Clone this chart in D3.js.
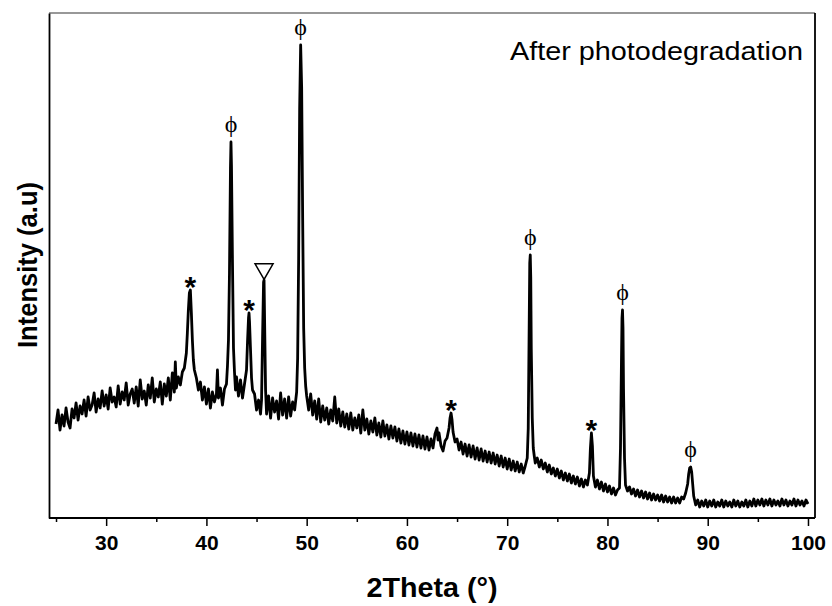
<!DOCTYPE html>
<html>
<head>
<meta charset="utf-8">
<script src="https://cdn.jsdelivr.net/npm/d3@7"></script>
<style>
  body { margin: 0; background: #fff; }
  .axis path, .axis line { stroke: #000; }
  .axis text { font-family: "Liberation Sans", Arial, sans-serif; font-weight: bold; font-size: 21px; fill: #000; }
</style>
</head>
<body>
<div id="chart-area"></div>
<script>
// XRD scan after photodegradation: [2theta, intensity (a.u.)]
const scanLow = [
  [25.0, 94], [25.2, 108], [25.4, 88], [25.6, 103], [25.8, 92], [26.0, 110], [26.2, 96], [26.4, 90],
  [26.6, 109], [26.8, 100], [27.0, 115], [27.2, 98], [27.4, 112], [27.6, 104], [27.8, 118], [28.0, 102],
  [28.2, 121], [28.4, 108], [28.6, 113], [28.8, 125], [29.0, 106], [29.2, 119], [29.4, 110], [29.6, 127],
  [29.8, 112], [30.0, 123], [30.2, 109], [30.4, 130], [30.6, 116], [30.8, 121], [31.0, 111], [31.2, 132],
  [31.4, 114], [31.6, 126], [31.8, 118], [32.0, 135], [32.2, 113], [32.4, 124], [32.6, 129], [32.8, 115],
  [33.0, 131], [33.2, 112], [33.4, 138], [33.6, 119], [33.8, 127], [34.0, 113], [34.2, 133], [34.4, 120],
  [34.6, 140], [34.8, 116], [35.0, 129], [35.2, 121], [35.4, 136], [35.6, 114], [35.8, 134], [36.0, 122],
  [36.2, 140], [36.4, 118], [36.6, 145], [36.8, 126], [36.9, 156], [37.0, 130], [37.2, 141], [37.4, 133],
  [37.6, 146], [37.8, 150], [38.0, 165], [38.1, 185], [38.2, 208], [38.3, 225], [38.4, 228], [38.5, 205],
  [38.6, 178], [38.7, 158], [38.8, 148], [39.0, 140], [39.2, 128], [39.4, 136], [39.6, 118], [39.8, 131],
  [40.0, 114], [40.2, 129], [40.4, 110], [40.6, 126], [40.8, 116], [41.0, 124], [41.1, 148], [41.2, 120],
  [41.4, 130], [41.6, 113], [41.8, 129], [42.0, 134], [42.1, 152], [42.2, 178], [42.3, 245], [42.4, 350],
  [42.45, 376], [42.5, 352], [42.6, 255], [42.7, 170], [42.8, 146], [42.9, 128], [43.0, 141], [43.2, 122],
  [43.4, 138], [43.6, 120], [43.8, 134], [44.0, 148], [44.1, 176], [44.2, 200], [44.25, 205], [44.3, 196],
  [44.4, 168], [44.5, 140], [44.6, 128], [44.8, 124], [45.0, 108], [45.2, 118], [45.4, 104], [45.5, 118],
  [45.6, 180], [45.7, 236], [45.75, 238], [45.8, 200], [45.9, 128], [46.0, 104], [46.2, 122], [46.4, 100],
  [46.6, 120], [46.8, 106], [47.0, 117], [47.2, 99], [47.4, 125], [47.6, 103], [47.8, 119], [48.0, 100],
  [48.2, 121], [48.4, 102], [48.6, 116], [48.8, 108], [49.0, 126], [49.1, 160], [49.2, 260], [49.3, 410],
  [49.4, 473], [49.5, 430], [49.6, 300], [49.7, 190], [49.8, 150], [49.9, 132]
];

const scanMid = [
  [50.0, 122], [50.2, 108], [50.4, 124], [50.6, 103], [50.8, 117], [51.0, 99], [51.2, 119], [51.4, 96],
  [51.6, 112], [51.8, 98], [52.0, 110], [52.2, 94], [52.4, 108], [52.6, 97], [52.8, 121], [53.0, 95],
  [53.2, 109], [53.4, 92], [53.6, 106], [53.8, 91], [54.0, 104], [54.2, 89], [54.4, 105], [54.6, 88],
  [54.8, 100], [55.0, 90], [55.2, 103], [55.4, 85], [55.6, 108], [55.8, 88], [56.0, 99], [56.2, 84],
  [56.4, 97], [56.6, 86], [56.8, 100], [57.0, 83], [57.2, 95], [57.4, 81], [57.6, 97], [57.8, 82],
  [58.0, 93], [58.2, 79], [58.4, 92], [58.6, 80], [58.8, 91], [59.0, 77], [59.2, 89], [59.4, 75],
  [59.6, 87], [59.8, 74], [60.0, 86], [60.2, 73], [60.4, 85], [60.6, 72], [60.8, 84], [61.0, 71],
  [61.2, 83], [61.4, 70], [61.6, 82], [61.8, 69], [62.0, 81], [62.2, 68], [62.4, 79], [62.6, 70],
  [62.8, 84], [63.0, 90], [63.1, 78], [63.2, 85], [63.4, 72], [63.6, 67], [63.8, 77], [64.0, 80],
  [64.2, 90], [64.3, 100], [64.4, 105], [64.5, 98], [64.6, 86], [64.8, 76], [65.0, 79], [65.2, 68],
  [65.4, 76], [65.6, 64], [65.8, 74], [66.0, 62], [66.2, 73], [66.4, 61], [66.6, 72], [66.8, 59],
  [67.0, 70], [67.2, 58], [67.4, 69], [67.6, 57], [67.8, 67], [68.0, 56], [68.2, 66], [68.4, 55],
  [68.6, 65], [68.8, 54], [69.0, 63], [69.2, 52], [69.4, 62], [69.6, 51], [69.8, 60], [70.0, 49],
  [70.2, 59], [70.4, 48], [70.6, 57], [70.8, 47], [71.0, 56], [71.2, 46], [71.4, 54], [71.6, 45],
  [71.8, 52], [72.0, 60], [72.1, 90], [72.2, 200], [72.25, 255], [72.3, 263], [72.35, 240], [72.4, 170],
  [72.5, 100], [72.6, 70], [72.7, 62], [72.8, 55], [73.0, 60], [73.2, 51], [73.4, 58], [73.6, 49],
  [73.8, 55], [74.0, 46], [74.2, 53], [74.4, 44], [74.6, 50], [74.8, 42]
];

const scanHigh = [
  [75.0, 49], [75.2, 40], [75.4, 47], [75.6, 38], [75.8, 45], [76.0, 37], [76.2, 44], [76.4, 35],
  [76.6, 42], [76.8, 34], [77.0, 41], [77.2, 32], [77.4, 39], [77.6, 31], [77.8, 38], [78.0, 33],
  [78.2, 45], [78.3, 70], [78.4, 85], [78.5, 72], [78.6, 42], [78.8, 31], [79.0, 38], [79.2, 29],
  [79.4, 36], [79.6, 27], [79.8, 34], [80.0, 26], [80.2, 32], [80.4, 24], [80.6, 30], [80.8, 23],
  [81.0, 28], [81.2, 30], [81.3, 70], [81.4, 160], [81.45, 200], [81.5, 208], [81.55, 190], [81.6, 130],
  [81.7, 60], [81.8, 33], [82.0, 27], [82.2, 31], [82.4, 24], [82.6, 29], [82.8, 22], [83.0, 28],
  [83.2, 21], [83.4, 27], [83.6, 20], [83.8, 26], [84.0, 19], [84.2, 25], [84.4, 18], [84.6, 24],
  [84.8, 18], [85.0, 23], [85.2, 17], [85.4, 23], [85.6, 16], [85.8, 22], [86.0, 16], [86.2, 21],
  [86.4, 15], [86.6, 21], [86.8, 15], [87.0, 20], [87.2, 15], [87.4, 21], [87.6, 19], [87.8, 25],
  [88.0, 34], [88.1, 44], [88.2, 50], [88.3, 51], [88.4, 46], [88.5, 34], [88.6, 22], [88.8, 13],
  [89.0, 18], [89.2, 11], [89.4, 17], [89.6, 12], [89.8, 18], [90.0, 11], [90.2, 17], [90.4, 12],
  [90.6, 18], [90.8, 11], [91.0, 16], [91.2, 12], [91.4, 18], [91.6, 11], [91.8, 17], [92.0, 12],
  [92.2, 16], [92.4, 11], [92.6, 18], [92.8, 12], [93.0, 17], [93.2, 11], [93.4, 16], [93.6, 12],
  [93.8, 18], [94.0, 11], [94.2, 17], [94.4, 12], [94.6, 19], [94.8, 12], [95.0, 18], [95.2, 13],
  [95.4, 19], [95.6, 12], [95.8, 18], [96.0, 13], [96.2, 19], [96.4, 12], [96.6, 18], [96.8, 13],
  [97.0, 17], [97.2, 12], [97.4, 19], [97.6, 13], [97.8, 18], [98.0, 12], [98.2, 17], [98.4, 13],
  [98.6, 19], [98.8, 12], [99.0, 18], [99.2, 13], [99.4, 17], [99.6, 12], [99.8, 18], [100.0, 14]
];

// phase marks above peaks
const peakLabels = [
  { theta: 38.4, mark: "*" },
  { theta: 42.45, mark: "ϕ" },
  { theta: 44.25, mark: "*" },
  { theta: 45.75, mark: "tri" },
  { theta: 49.4, mark: "ϕ" },
  { theta: 64.4, mark: "*" },
  { theta: 72.3, mark: "ϕ" },
  { theta: 78.4, mark: "*" },
  { theta: 81.5, mark: "ϕ" },
  { theta: 88.3, mark: "ϕ" }
];

const majorTicks = [30, 40, 50, 60, 70, 80, 90, 100];
const minorTicks = [25, 35, 45, 55, 65, 75, 85, 95];

const data = scanLow.concat(scanMid, scanHigh).map(d => ({ theta: d[0], value: d[1] }));

const margin = { top: 13, right: 17, bottom: 88, left: 49 };
const svgWidth = 832,
  svgHeight = 606;
const width = svgWidth - margin.left - margin.right,
  height = svgHeight - margin.top - margin.bottom;

const svg = d3
  .select("#chart-area")
  .append("svg")
  .attr("width", svgWidth)
  .attr("height", svgHeight);

const g = svg.append("g").attr("transform", `translate(${margin.left}, ${margin.top})`);

// Scales
const xScale = d3.scaleLinear().domain([24.3, 100.7]).range([0, width]);
const yScale = d3.scaleLinear().domain([0, 505]).range([height, 0]);

// frame (top + right)
g.append("line")
  .attr("x1", 0).attr("x2", width).attr("y1", 0).attr("y2", 0)
  .attr("stroke", "#333").attr("stroke-width", 1.2);
g.append("line")
  .attr("x1", width).attr("x2", width).attr("y1", 0).attr("y2", height)
  .attr("stroke", "#000").attr("stroke-width", 1.8);

// X axis
const xAxisGroup = g
  .append("g")
  .attr("class", "x axis")
  .attr("transform", `translate(0,${height})`)
  .call(d3.axisBottom(xScale).tickValues(majorTicks).tickFormat(d3.format("d")).tickSize(8).tickPadding(9));
xAxisGroup.select(".domain").attr("stroke-width", 1.8).attr("d", `M0,0H${width}`);
xAxisGroup.selectAll(".tick line").attr("stroke-width", 1.5);

g.append("g")
  .attr("class", "x axis minor")
  .attr("transform", `translate(0,${height})`)
  .call(d3.axisBottom(xScale).tickValues(minorTicks).tickFormat("").tickSize(4))
  .call(a => a.select(".domain").remove())
  .selectAll(".tick line").attr("stroke-width", 1.5);

// Y axis (no ticks)
g.append("g")
  .attr("class", "y axis")
  .call(d3.axisLeft(yScale).tickValues([]).tickSizeOuter(0))
  .select(".domain").attr("stroke-width", 1.8);

// pattern
const line = d3
  .line()
  .x(d => xScale(d.theta))
  .y(d => yScale(d.value));

g.append("path")
  .datum(data)
  .attr("fill", "none")
  .attr("stroke", "#000")
  .attr("stroke-width", 2.8)
  .attr("stroke-linejoin", "round")
  .attr("d", line);

// peak marks
function peakTop(theta) {
  const near = data.filter(d => Math.abs(d.theta - theta) <= 0.3);
  return d3.max(near, d => d.value);
}

peakLabels.forEach(p => {
  const px = xScale(p.theta);
  const py = yScale(peakTop(p.theta));
  if (p.mark === "*") {
    g.append("text")
      .attr("x", px)
      .attr("y", py + 7)
      .attr("text-anchor", "middle")
      .attr("font-family", "Liberation Sans, Arial, sans-serif")
      .attr("font-weight", "bold")
      .attr("font-size", 30)
      .text("*");
  } else if (p.mark === "ϕ") {
    g.append("text")
      .attr("x", px)
      .attr("y", py - 10)
      .attr("text-anchor", "middle")
      .attr("font-family", "Liberation Serif, Times New Roman, serif")
      .attr("font-size", 24)
      .attr("fill", "#000")
      .text("ϕ");
  } else {
    g.append("path")
      .attr("d", d3.symbol(d3.symbolTriangle, 140)())
      .attr("transform", `translate(${px},${py - 11}) rotate(180)`)
      .attr("fill", "#fff")
      .attr("stroke", "#000")
      .attr("stroke-width", 1.5);
  }
});

// title
g.append("text")
  .attr("x", 754)
  .attr("y", 47)
  .attr("text-anchor", "end")
  .attr("font-family", "Liberation Sans, Arial, sans-serif")
  .attr("font-size", 25)
  .attr("textLength", 293)
  .attr("lengthAdjust", "spacingAndGlyphs")
  .text("After photodegradation");

// X Label
svg.append("text")
  .attr("x", 432)
  .attr("y", 597)
  .attr("text-anchor", "middle")
  .attr("font-family", "Liberation Sans, Arial, sans-serif")
  .attr("font-weight", "bold")
  .attr("font-size", 27)
  .attr("textLength", 131)
  .attr("lengthAdjust", "spacingAndGlyphs")
  .text("2Theta (°)");

// Y Label
svg.append("text")
  .attr("x", -265)
  .attr("y", 37)
  .attr("text-anchor", "middle")
  .attr("transform", "rotate(-90)")
  .attr("font-family", "Liberation Sans, Arial, sans-serif")
  .attr("font-weight", "bold")
  .attr("font-size", 27)
  .attr("textLength", 166)
  .attr("lengthAdjust", "spacingAndGlyphs")
  .text("Intensity (a.u)");
</script>
</body>
</html>
